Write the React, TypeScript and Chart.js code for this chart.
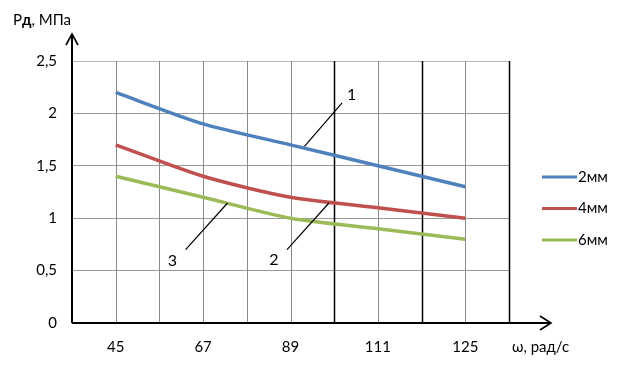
import React, { useEffect, useRef } from "react";
import { Chart, registerables } from "chart.js";

Chart.register(...registerables);

const categories = ["45", "67", "89", "111", "125"];
const seriesLabels = ["2мм", "4мм", "6мм"];
const series2mm = [2.2, 1.9, 1.7, 1.5, 1.3];
const series4mm = [1.7, 1.4, 1.2, 1.1, 1.0];
const series6mm = [1.4, 1.2, 1.0, 0.9, 0.8];
const seriesColors = ["#4F81BD", "#C0504D", "#9BBB59"];
const yMin = 0;
const yMax = 2.5;
const yStep = 0.5;

// annotation callouts in data coordinates (x as category index, y as value)
const annotationLabels = ["1", "2", "3"];
const annotationText = [
  [2.7, 2.18],
  [1.81, 0.6],
  [0.65, 0.59],
];
const annotationLines = [
  [2.59, 2.1, 2.16, 1.685],
  [1.96, 0.7, 2.44, 1.145],
  [0.8, 0.7, 1.28, 1.145],
];

const FONT = "Lato, 'Open Sans', sans-serif";

const customPlugin = {
  id: "custom",
  beforeDatasetsDraw(chart: any) {
    const { ctx, chartArea } = chart;
    const xs = chart.scales.x;
    const n = categories.length;
    ctx.save();
    // vertical lines at category centers and edges
    for (let k = 0; k <= 2 * n; k++) {
      const v = k / 2 - 0.5;
      if (v < 0) continue;
      const px = Math.round(xs.getPixelForValue(v)) + 0.5;
      const isEdge = k % 2 === 0;
      const dark = isEdge && v >= 2.4;
      ctx.strokeStyle = dark ? "#000" : "#8a8a8a";
      ctx.lineWidth = dark ? 1.5 : 1;
      ctx.beginPath();
      ctx.moveTo(px, chartArea.top);
      ctx.lineTo(px, chartArea.bottom);
      ctx.stroke();
    }
    ctx.restore();
  },
  afterDatasetsDraw(chart: any) {
    const { ctx, chartArea } = chart;
    const xs = chart.scales.x;
    const ys = chart.scales.y;
    ctx.save();
    // axes with arrows
    ctx.strokeStyle = "#000";
    ctx.lineWidth = 2;
    const ax = chartArea.left;
    const ay = chartArea.bottom;
    const yTop = chartArea.top - 27;
    const xRight = chartArea.right + 42;
    ctx.beginPath();
    ctx.moveTo(ax, ay);
    ctx.lineTo(ax, yTop);
    ctx.moveTo(ax, ay);
    ctx.lineTo(xRight, ay);
    ctx.stroke();
    ctx.lineWidth = 1.6;
    ctx.beginPath();
    ctx.moveTo(ax - 6, yTop + 11);
    ctx.lineTo(ax, yTop);
    ctx.lineTo(ax + 6, yTop + 11);
    ctx.moveTo(xRight - 11, ay - 7);
    ctx.lineTo(xRight, ay);
    ctx.lineTo(xRight - 11, ay + 7);
    ctx.stroke();

    // axis titles
    ctx.fillStyle = "#000";
    ctx.textBaseline = "middle";
    ctx.textAlign = "left";
    let tx = 13;
    const ty = 20;
    ctx.font = `15px ${FONT}`;
    ctx.fillText("Р", tx, ty);
    tx += ctx.measureText("Р").width;
    ctx.font = `bold 15px ${FONT}`;
    ctx.fillText("д", tx, ty);
    tx += ctx.measureText("д").width;
    ctx.font = `15px ${FONT}`;
    ctx.fillText(", МПа", tx, ty);
    ctx.fillText("ω, рад/с", chartArea.right + 3, ay + 24);

    // annotations
    ctx.strokeStyle = "#000";
    ctx.lineWidth = 1.2;
    annotationLines.forEach((l) => {
      ctx.beginPath();
      ctx.moveTo(xs.getPixelForValue(l[0]), ys.getPixelForValue(l[1]));
      ctx.lineTo(xs.getPixelForValue(l[2]), ys.getPixelForValue(l[3]));
      ctx.stroke();
    });
    ctx.font = `16px ${FONT}`;
    ctx.textAlign = "center";
    annotationLabels.forEach((t, i) => {
      ctx.fillText(t, xs.getPixelForValue(annotationText[i][0]), ys.getPixelForValue(annotationText[i][1]));
    });

    // legend
    ctx.font = `15px ${FONT}`;
    ctx.textAlign = "left";
    const lx = chartArea.right + 33;
    chart.data.datasets.forEach((ds: any, i: number) => {
      const ly = 177 + i * 31.5;
      ctx.strokeStyle = ds.borderColor;
      ctx.lineWidth = 3;
      ctx.beginPath();
      ctx.moveTo(lx, ly);
      ctx.lineTo(lx + 35, ly);
      ctx.stroke();
      ctx.fillStyle = "#000";
      ctx.fillText(ds.label, lx + 36, ly);
    });
    ctx.restore();
  },
};

export default function App() {
  const ref = useRef<HTMLCanvasElement>(null);
  useEffect(() => {
    if (!ref.current) return;
    const data = [series2mm, series4mm, series6mm];
    const chart = new Chart(ref.current, {
      type: "line",
      data: {
        labels: categories,
        datasets: data.map((d, i) => ({
          label: seriesLabels[i],
          data: d,
          borderColor: seriesColors[i],
          backgroundColor: seriesColors[i],
          borderWidth: 3.5,
          pointRadius: 0,
          tension: 0.25,
          fill: false,
        })),
      },
      options: {
        animation: false,
        responsive: false,
        layout: { padding: { top: 61, right: 114, left: 0, bottom: 0 } },
        plugins: { legend: { display: false }, tooltip: { enabled: false } },
        scales: {
          x: {
            type: "category",
            offset: true,
            grid: { display: false, drawTicks: false },
            border: { display: false },
            ticks: { color: "#000", padding: 15, font: { family: FONT, size: 15 } },
            afterFit: (s: any) => {
              s.height = 47;
            },
          },
          y: {
            min: yMin,
            max: yMax,
            grid: {
              drawTicks: false,
              color: (c: any) => (c.tick && c.tick.value === yMax ? "#b5b5b5" : "#999"),
            },
            border: { display: false },
            ticks: {
              stepSize: yStep,
              color: "#000",
              padding: 15,
              font: { family: FONT, size: 15 },
              callback: (v: any) => String(v).replace(".", ","),
            },
            afterFit: (s: any) => {
              s.width = 72;
            },
          },
        },
      },
      plugins: [customPlugin],
    });
    return () => chart.destroy();
  }, []);
  return (
    <div style={{ position: "fixed", left: 0, top: 0, width: 623, height: 370, background: "#fff" }}>
      <canvas ref={ref} width={623} height={370} />
    </div>
  );
}
